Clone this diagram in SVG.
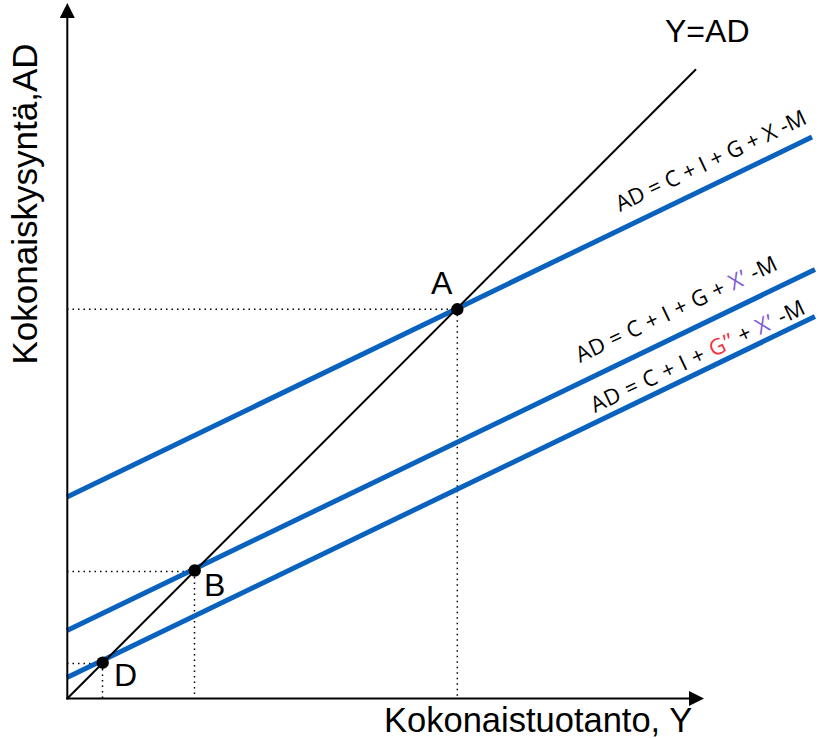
<svg xmlns="http://www.w3.org/2000/svg" width="819" height="738" viewBox="0 0 819 738">
  <style>
    .axis { stroke: #000; stroke-width: 2; fill: none; }
    .blue { stroke: #0A62BF; stroke-width: 5; fill: none; }
    .diag { stroke: #000; stroke-width: 2; fill: none; }
    .dot { stroke: #000; stroke-width: 1.5; stroke-dasharray: 1.5 4; fill: none; }
    .lbl { font-family: "Liberation Sans", Arial, sans-serif; fill: #000; }
    .eq { font-family: "Open Sans", "Noto Sans", sans-serif; font-size: 22px; fill: #000; }
    .pur { fill: #7F5CD3; }
    .red { fill: #F5333F; }
    .pt { fill: #000; }
  </style>
  <defs>
    <marker id="arr" markerWidth="15" markerHeight="15" refX="0" refY="7.5" orient="auto" markerUnits="userSpaceOnUse">
      <path d="M0,0 L15,7.5 L0,15 Z" fill="#000"/>
    </marker>
  </defs>
  <rect width="819" height="738" fill="#fff"/>

  <g id="connectors">
    <line class="dot" x1="67" y1="309.3" x2="457.3" y2="309.3"/>
    <line class="dot" x1="457.3" y1="309.3" x2="457.3" y2="698.5"/>
    <line class="dot" x1="67" y1="571.5" x2="194.5" y2="571.5"/>
    <line class="dot" x1="194.5" y1="571.5" x2="194.5" y2="698.5"/>
    <line class="dot" x1="67" y1="663.5" x2="102.5" y2="663.5"/>
    <line class="dot" x1="102.5" y1="663.5" x2="102.5" y2="698.5"/>
    <line class="blue" x1="67" y1="497" x2="812" y2="137"/>
    <line class="blue" x1="67" y1="630.5" x2="815" y2="269.5"/>
    <line class="blue" x1="67" y1="677.5" x2="815" y2="316.5"/>
    <line class="diag" x1="67.3" y1="698.5" x2="696" y2="69.3"/>
    <line class="axis" x1="67.3" y1="699.5" x2="67.3" y2="18" marker-end="url(#arr)"/>
    <line class="axis" x1="66.3" y1="698.5" x2="689" y2="698.5" marker-end="url(#arr)"/>
  </g>

  <g id="point-A">
    <circle class="pt" cx="457.3" cy="309.3" r="6.2"/>
    <text class="lbl" x="431" y="294" font-size="32">A</text>
  </g>
  <g id="point-B">
    <circle class="pt" cx="194.7" cy="570.5" r="6.2"/>
    <text class="lbl" x="204" y="596" font-size="32">B</text>
  </g>
  <g id="point-D">
    <circle class="pt" cx="102.7" cy="662.7" r="6.2"/>
    <text class="lbl" x="114" y="686" font-size="32">D</text>
  </g>

  <g id="label-YAD">
    <text class="lbl" x="665" y="42" font-size="32">Y=AD</text>
  </g>
  <g id="label-AD1">
    <text class="eq" transform="translate(620,212) rotate(-25.3)" textLength="208" lengthAdjust="spacing">AD = C + I + G + X -M</text>
  </g>
  <g id="label-AD2">
    <text class="eq" transform="translate(580,363) rotate(-25.3)" textLength="220" lengthAdjust="spacing">AD = C + I + G + <tspan class="pur">X’</tspan> -M</text>
  </g>
  <g id="label-AD3">
    <text class="eq" transform="translate(595,413) rotate(-25.3)" textLength="234" lengthAdjust="spacing">AD = C + I + <tspan class="red">G’’</tspan> + <tspan class="pur">X’</tspan> -M</text>
  </g>

  <g id="x-axis-label">
    <text class="lbl" x="384" y="732" font-size="34.5">Kokonaistuotanto, Y</text>
  </g>
  <g id="y-axis-label">
    <text class="lbl" transform="translate(37,204) rotate(-90)" text-anchor="middle" font-size="35">Kokonaiskysyntä,AD</text>
  </g>
</svg>
